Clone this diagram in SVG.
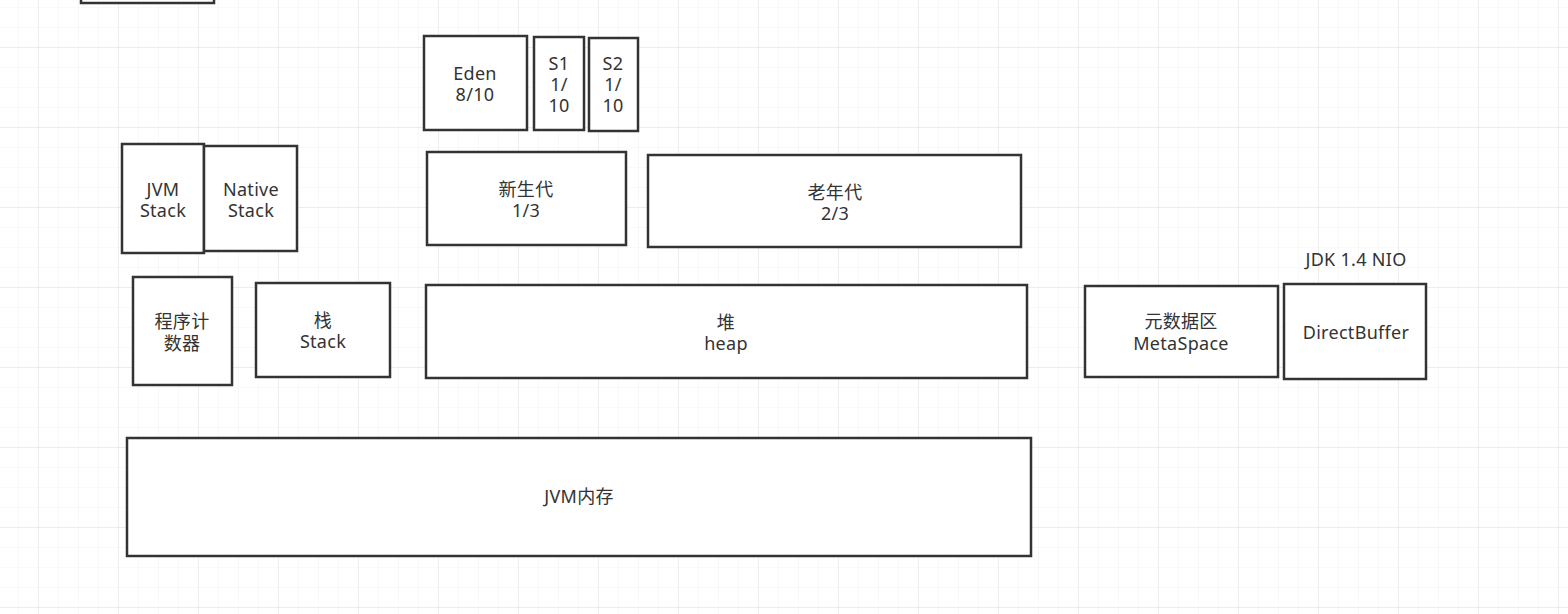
<svg xmlns="http://www.w3.org/2000/svg" width="1568" height="614" viewBox="0 0 1568 614">
<defs>
<pattern id="minor" x="-2" y="7" width="20" height="20" patternUnits="userSpaceOnUse">
<path d="M0 0H20M0 0V20" fill="none" stroke="#f3f3f3" stroke-width="1.2"/>
</pattern>
<pattern id="major" x="38" y="47" width="80" height="80" patternUnits="userSpaceOnUse">
<path d="M0 0H80M0 0V80" fill="none" stroke="#e8e8e8" stroke-width="1.4"/>
</pattern>
</defs>
<style>
.box{fill:#fff;stroke:#333;stroke-width:2.5}
.t{font-family:"Noto Sans","Noto Sans CJK SC",sans-serif;font-size:18px;fill:#333;text-anchor:middle;letter-spacing:0.3px}
</style>
<rect width="1568" height="614" fill="#fff"/>
<rect width="1568" height="614" fill="url(#minor)"/>
<rect width="1568" height="614" fill="url(#major)"/>
<g id="connectors"/>
<g id="topcut"><rect class="box" x="81" y="-12" width="133" height="15"/></g>
<g id="jvmstack"><rect class="box" x="122" y="144" width="82" height="109"/><text class="t" x="163" y="196">JVM</text><text class="t" x="163" y="217">Stack</text></g>
<g id="nativestack"><rect class="box" x="204" y="146" width="93" height="105"/><text class="t" x="251" y="196">Native</text><text class="t" x="251" y="217">Stack</text></g>
<g id="eden"><rect class="box" x="424" y="36" width="103" height="94"/><text class="t" x="475" y="80">Eden</text><text class="t" x="475" y="101">8/10</text></g>
<g id="s1"><rect class="box" x="534" y="37" width="50" height="93"/><text class="t" x="559" y="70">S1</text><text class="t" x="559" y="91">1/</text><text class="t" x="559" y="112">10</text></g>
<g id="s2"><rect class="box" x="589" y="38" width="49" height="93"/><text class="t" x="613" y="70">S2</text><text class="t" x="613" y="91">1/</text><text class="t" x="613" y="112">10</text></g>
<g id="young"><rect class="box" x="427" y="152" width="199" height="93"/><text class="t" x="526" y="196">新生代</text><text class="t" x="526" y="217">1/3</text></g>
<g id="old"><rect class="box" x="648" y="155" width="373" height="92"/><text class="t" x="835" y="199">老年代</text><text class="t" x="835" y="220">2/3</text></g>
<g id="pc"><rect class="box" x="133" y="277" width="99" height="108"/><text class="t" x="182" y="328">程序计</text><text class="t" x="182" y="350">数器</text></g>
<g id="stack"><rect class="box" x="256" y="283" width="134" height="94"/><text class="t" x="323" y="327">栈</text><text class="t" x="323" y="348">Stack</text></g>
<g id="heap"><rect class="box" x="426" y="285" width="601" height="93"/><text class="t" x="726" y="329">堆</text><text class="t" x="726" y="350">heap</text></g>
<g id="meta"><rect class="box" x="1085" y="286" width="193" height="91"/><text class="t" x="1181" y="328">元数据区</text><text class="t" x="1181" y="350">MetaSpace</text></g>
<g id="direct"><rect class="box" x="1284" y="284" width="142" height="95"/><text class="t" x="1356" y="339">DirectBuffer</text></g>
<g id="nio"><text class="t" x="1356" y="266">JDK 1.4 NIO</text></g>
<g id="jvmmem"><rect class="box" x="127" y="438" width="904" height="118"/><text class="t" x="579" y="503">JVM内存</text></g>
</svg>
